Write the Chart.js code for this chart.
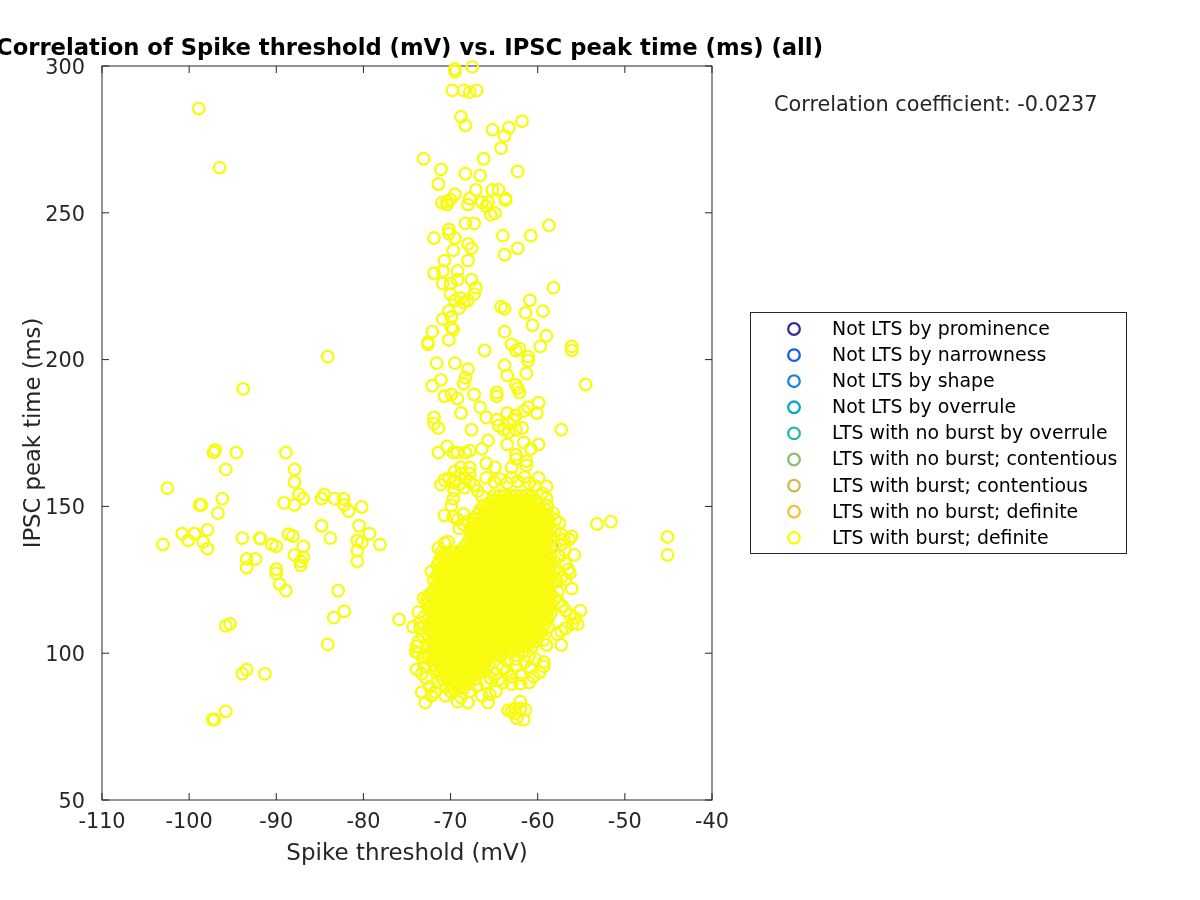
<!DOCTYPE html>
<html>
<head>
<meta charset="utf-8">
<title>Correlation</title>
<script src="https://cdn.jsdelivr.net/npm/chart.js@4"></script>
<style>
  body { margin: 0; background: #fff; }
  canvas { display: block; }
</style>
</head>
<body>
<canvas id="chart" width="1200" height="900"></canvas>
<script>
// ---- DATA ----
const titleText = 'Correlation of Spike threshold (mV) vs. IPSC peak time (ms) (all)';
const corrText = 'Correlation coefficient: -0.0237';
const xTicks = [-110, -100, -90, -80, -70, -60, -50, -40];
const yTicks = [50, 100, 150, 200, 250, 300];
const categories = [
  'Not LTS by prominence', 'Not LTS by narrowness', 'Not LTS by shape', 'Not LTS by overrule',
  'LTS with no burst by overrule', 'LTS with no burst; contentious', 'LTS with burst; contentious',
  'LTS with no burst; definite', 'LTS with burst; definite'
];
const colors = ['#3f2b96', '#0f5fe0', '#1a86de', '#07a8c8', '#2db7a3', '#86bf75', '#d0b855', '#fbbd33', '#f9fb0e'];

// [threshold, peak time]
const burstContentious = [[-58.4, 136.3]];

const leftGroup = [
  [-98.9,285.5],[-96.5,265.4],[-93.8,190],[-84.1,201],[-97,169.2],[-97.2,168.4],[-94.6,168.3],[-88.9,168.3],
  [-95.8,162.6],[-87.9,162.6],[-87.9,158.3],[-102.5,156.2],[-87.4,154.1],[-86.9,152.6],[-89.1,151.2],[-87.9,150.5],
  [-84.5,154.1],[-84.8,152.6],[-83.3,152.6],[-82.3,152.6],[-82.2,150.5],[-81.7,148.4],[-80.2,149.8],[-96.2,152.6],
  [-98.6,150.5],[-98.8,150.5],[-96.7,147.7],[-84.8,143.4],[-80.5,143.4],[-79.3,140.7],[-97.9,142],[-100.8,140.7],
  [-99.4,140.7],[-100.1,138.4],[-98.4,137.9],[-97.9,135.6],[-103,137],[-93.9,139.2],[-91.9,139.2],[-91.8,139],
  [-90.5,137],[-90,136.4],[-88.6,140.5],[-88.1,139.9],[-86.9,136.4],[-83.8,139.2],[-87.9,133.5],[-86.9,132.7],
  [-87.2,131.3],[-87.2,129.9],[-80.7,138.4],[-80.2,137.7],[-80.7,134.9],[-80.7,131.3],[-78.1,137],[-93.4,132.1],
  [-92.4,132.1],[-93.4,129.2],[-90,128.6],[-90,127.2],[-89.6,123.5],[-88.9,121.3],[-82.9,121.3],[-82.2,114.3],
  [-83.4,112.1],[-84.1,103],[-75.9,111.5],[-95.8,109.3],[-95.3,110],[-93.4,94.4],[-93.9,93],[-91.3,93],
  [-95.8,80.2],[-97.1,77.4],[-97.3,77.4]
];

const rightGroup = [[-45.1,139.6],[-45.1,133.5],[-51.6,144.8],[-53.2,144],[-54.5,191.5]];

const upperColumn = [
  [-69.5,299],[-69.5,298.1],[-67.5,299.7],[-69.8,291.7],[-68.5,291.7],[-67.8,291.1],[-67,291.7],[-68.8,282.7],
  [-68.3,279.8],[-65.2,278.3],[-63.3,279],[-61.8,281.2],[-63.8,276.2],[-64.2,272],[-73.1,268.4],[-66.2,268.4],
  [-71.1,264.8],[-68.3,263.3],[-66.6,262.7],[-62.3,264.1],[-71.4,259.8],[-67.1,257.8],[-65.2,257.8],[-64.5,257.8],
  [-69.5,256.3],[-71,253.4],[-70.4,253.9],[-70,254.5],[-70.4,252.8],[-68,252.8],[-67.8,254.8],[-66.4,253.6],
  [-65.7,253.6],[-65.9,252.2],[-63.7,254.9],[-63.7,254.3],[-65.4,249.3],[-64.9,249.9],[-68.3,246.4],[-67.3,246.4],
  [-58.7,245.7],[-70.2,244.3],[-70.2,242.9],[-71.9,241.4],[-69.5,241.4],[-64,242.2],[-60.8,242.2],[-68,239.4],
  [-67.6,237.9],[-69.7,237.2],[-62.3,237.9],[-63.8,235.7],[-70.7,233.7],[-68,233.7],[-69.2,230.2],[-70.9,230.2],
  [-71.9,229.4],[-69.2,227.2],[-67.6,227.2],[-70,225.9],[-70.9,225.9],[-67.1,224.5],[-58.2,224.5],[-67.3,222.3],
  [-70,222.3],[-69.5,220.2],[-68.8,220.9],[-68,220.2],[-68.5,219.5],[-69,217.6],[-60.9,220.2],[-64.2,218],
  [-63.8,217.3],[-61.4,215.9],[-59.4,216.5],[-70.2,216.5],[-69.9,214.5],[-70.9,213.8],[-60.6,211.7],[-72.1,209.5],
  [-69.9,211],[-69.7,210.2],[-63.8,209.5],[-70.2,206.7],[-72.6,205.9],[-72.6,205.2],[-59,208.1],[-63,205.2],
  [-59.7,204.5],[-56.1,204.5],[-56.1,203.1],[-62.1,203.7],[-62.5,203.1],[-66.1,203.1],[-61.1,201],[-61.1,199.6],
  [-63.8,198.1],[-71.6,198.8],[-69.5,198.8],[-68,196.7],[-68.3,193.8],[-61.3,195.3],[-63.5,194.6],[-71.1,193.1],
  [-68.5,191.8],[-72.1,191.1],[-62.5,191.4],[-62.3,190.3],[-62.1,188.8],[-70.7,187.5],[-69.9,188.1],[-69.2,186.7],
  [-67.3,188.1],[-64.7,188.8],[-64.7,187.5],[-66.6,183.8],[-68.8,181.8],[-59.9,185.3],[-61.1,183.8],[-61.6,182.5],
  [-60.1,181.8],[-63.5,181.8],[-65.9,180.3],[-62.5,181],[-71.9,180.3],[-71.9,178.2],[-71.4,176.7],[-64.7,179.5],
  [-64.5,177.5],[-63.9,176.1],[-63.3,178.2],[-62.8,179.5],[-62.5,176.1],[-61.8,176.7],[-63.3,175.3],[-67.6,176.1],
  [-57.3,176.1],[-65.7,172.5],[-63.5,171.1],[-61.6,171.8],[-59.9,171.1],[-60.8,169.6],[-70.4,170.4],[-66.4,169.6],
  [-71.4,168.3],[-69.7,168.3],[-69.2,168.3],[-68.3,168.3],[-67.8,169],[-62.5,167.6],[-61.3,165.4],[-61.3,164],
  [-62.5,166.1],[-65.9,164.7],[-64.9,163.3],[-63,163.3],[-67.8,163.3],[-68.8,163.3],[-69.5,161.9],[-67.8,161.1],
  [-68.8,161.1]
];

const clusterEdge = [
  [-70.7,159],[-71.1,157.4],[-70.2,159.6],[-69.7,158.2],[-69,157.5],[-68.3,159.5],[-67.8,158.4],[-67.3,157.2],
  [-68.4,156.4],[-69.6,155.4],[-69.7,152.6],[-69.9,150.3],[-70.7,146.9],[-69.7,146.5],[-69.2,145.5],[-68.5,147.4],
  [-68.5,143.8],[-68,145],[-67.7,142.5],[-69,142.5],[-65.9,159.7],[-66.9,155.3],[-66.4,153.5],[-65,158.4],
  [-64.3,159.3],[-63.5,158],[-63,159.8],[-62.3,158.5],[-61.5,160],[-61,158],[-60.3,157],[-59.9,159.7],
  [-59,156.8],[-59.5,154.5],[-59,152.8],[-58.9,150.2],[-58.2,147.7],[-58,145.5],[-57.5,144.3],[-58,142],
  [-57.3,140.5],[-57,138.7],[-56.1,139.8],[-56.4,138.8],[-57.3,137],[-56.9,135],[-55.8,133.5],[-57.5,133],
  [-56.8,130.5],[-56.5,128.5],[-56.3,127.3],[-57.2,126],[-57.8,124.5],[-56.8,125],[-56.1,122],[-57.7,121],
  [-58,118.5],[-57.6,117.5],[-57.2,116],[-55.1,114.5],[-56.8,114.5],[-56.3,113],[-55.7,112],[-55.4,109.9],
  [-56,110],[-56.8,108.5],[-57.3,107.5],[-57.8,106.5],[-59,102.8],[-57.3,102.8],[-59.3,104.5],[-59.3,97],
  [-59.3,95.5],[-59.8,93.5],[-60.5,92],[-61,90],[-62,89.6],[-63,89.5],[-64,90],[-64.5,91],
  [-63.5,94],[-62.5,95.5],[-61.5,97],[-60.8,95],[-62,92.5],[-63,92],[-64,95],[-64.8,93],
  [-60.3,98],[-61,99],[-62.5,98],[-63.5,97.5],[-64.2,99],[-71.4,135.8],[-70.7,137.5],[-70.3,138],
  [-71,134.5],[-72.2,127.8],[-71.5,130],[-71.3,131.5],[-73.1,118.7],[-72.7,118.7],[-72.4,120],[-72.6,117],
  [-73.7,114],[-73,112.5],[-73.5,110.5],[-74.3,109],[-73.5,108.5],[-73.2,106],[-73.7,104],[-73.9,102.3],
  [-73.7,100],[-74,100.5],[-73.2,98.5],[-73.9,94.5],[-73.3,93],[-73,95.5],[-72.8,91.5],[-73.3,86.7],
  [-72.9,83.2],[-72.2,85.5],[-72.4,88.5],[-71.5,90],[-70.6,85.5],[-70,87],[-69.2,83.5],[-68,83.2],
  [-68.8,85],[-67.8,87],[-66.4,85.5],[-65.7,83.2],[-65.5,86],[-64.8,87],[-67,89],[-66,90],
  [-65.4,91.5],[-67.5,92],[-70.5,88.5],[-71.8,86.8],
  [-62,83.5],[-63.4,80.5],[-62.6,79.5],[-61.6,77.3],[-62.4,77.8],[-63,80.1],[-61.4,80.7],[-62,81.2],[-62.6,81.2]
];

// solid part of the cluster, estimated row by row
const denseTimes = [
  153.6,152,150.4,148.8,147.2,145.6,144,142.4,140.8,139.2,137.6,136,134.4,132.8,131.2,129.6,128,126.4,124.8,123.2,
  121.6,120,118.4,116.8,115.2,113.6,112,110.4,108.8,107.2,105.6,104,102.4,100.8,99.2,97.6,96,94.4,92.8,91.2,89.6,88
];
const denseThresholds = [
  [-65,-64.4,-63.8,-63.1,-62.5,-61.9,-61.2,-60.6],
  [-65.3,-64.7,-64.1,-63.5,-62.8,-62.2,-61.6,-60.9,-60.3],
  [-66.2,-65.6,-65,-64.4,-63.8,-63.1,-62.5,-61.9,-61.2,-60.6,-60],
  [-66.6,-65.9,-65.3,-64.7,-64.1,-63.5,-62.8,-62.2,-61.6,-60.9,-60.3,-59.7,-59.1],
  [-66.9,-66.2,-65.6,-65,-64.4,-63.8,-63.1,-62.5,-61.9,-61.2,-60.6,-60,-59.4,-58.8],
  [-67.2,-66.6,-65.9,-65.3,-64.7,-64.1,-63.5,-62.8,-62.2,-61.6,-60.9,-60.3,-59.7,-59.1],
  [-67.5,-66.9,-66.2,-65.6,-65,-64.4,-63.8,-63.1,-62.5,-61.9,-61.2,-60.6,-60,-59.4,-58.8],
  [-67.2,-66.6,-65.9,-65.3,-64.7,-64.1,-63.5,-62.8,-62.2,-61.6,-60.9,-60.3,-59.7,-59.1,-58.5],
  [-67.5,-66.9,-66.2,-65.6,-65,-64.4,-63.8,-63.1,-62.5,-61.9,-61.2,-60.6,-60,-59.4,-58.8],
  [-67.8,-67.2,-66.6,-65.9,-65.3,-64.7,-64.1,-63.5,-62.8,-62.2,-61.6,-60.9,-60.3,-59.7,-59.1,-58.5],
  [-68.1,-67.5,-66.9,-66.2,-65.6,-65,-64.4,-63.8,-63.1,-62.5,-61.9,-61.2,-60.6,-60,-59.4,-58.8],
  [-68.5,-67.8,-67.2,-66.6,-65.9,-65.3,-64.7,-64.1,-63.5,-62.8,-62.2,-61.6,-60.9,-60.3,-59.7,-59.1],
  [-70.6,-70,-69.4,-68.8,-68.1,-67.5,-66.9,-66.2,-65.6,-65,-64.4,-63.8,-63.1,-62.5,-61.9,-61.2,-60.6,-60,-59.4,-58.8],
  [-70.9,-70.3,-69.7,-69.1,-68.5,-67.8,-67.2,-66.6,-65.9,-65.3,-64.7,-64.1,-63.5,-62.8,-62.2,-61.6,-60.9,-60.3,-59.7,-59.1,-58.5],
  [-71.2,-70.6,-70,-69.4,-68.8,-68.1,-67.5,-66.9,-66.2,-65.6,-65,-64.4,-63.8,-63.1,-62.5,-61.9,-61.2,-60.6,-60,-59.4,-58.8,-58.1],
  [-70.9,-70.3,-69.7,-69.1,-68.5,-67.8,-67.2,-66.6,-65.9,-65.3,-64.7,-64.1,-63.5,-62.8,-62.2,-61.6,-60.9,-60.3,-59.7,-59.1,-58.5],
  [-71.2,-70.6,-70,-69.4,-68.8,-68.1,-67.5,-66.9,-66.2,-65.6,-65,-64.4,-63.8,-63.1,-62.5,-61.9,-61.2,-60.6,-60,-59.4,-58.8,-58.1],
  [-71.6,-70.9,-70.3,-69.7,-69.1,-68.5,-67.8,-67.2,-66.6,-65.9,-65.3,-64.7,-64.1,-63.5,-62.8,-62.2,-61.6,-60.9,-60.3,-59.7,-59.1,-58.5],
  [-71.9,-71.2,-70.6,-70,-69.4,-68.8,-68.1,-67.5,-66.9,-66.2,-65.6,-65,-64.4,-63.8,-63.1,-62.5,-61.9,-61.2,-60.6,-60,-59.4,-58.8,-58.1],
  [-71.6,-70.9,-70.3,-69.7,-69.1,-68.5,-67.8,-67.2,-66.6,-65.9,-65.3,-64.7,-64.1,-63.5,-62.8,-62.2,-61.6,-60.9,-60.3,-59.7,-59.1,-58.5],
  [-71.9,-71.2,-70.6,-70,-69.4,-68.8,-68.1,-67.5,-66.9,-66.2,-65.6,-65,-64.4,-63.8,-63.1,-62.5,-61.9,-61.2,-60.6,-60,-59.4,-58.8],
  [-72.2,-71.6,-70.9,-70.3,-69.7,-69.1,-68.5,-67.8,-67.2,-66.6,-65.9,-65.3,-64.7,-64.1,-63.5,-62.8,-62.2,-61.6,-60.9,-60.3,-59.7,-59.1,-58.5],
  [-71.9,-71.2,-70.6,-70,-69.4,-68.8,-68.1,-67.5,-66.9,-66.2,-65.6,-65,-64.4,-63.8,-63.1,-62.5,-61.9,-61.2,-60.6,-60,-59.4,-58.8],
  [-72.2,-71.6,-70.9,-70.3,-69.7,-69.1,-68.5,-67.8,-67.2,-66.6,-65.9,-65.3,-64.7,-64.1,-63.5,-62.8,-62.2,-61.6,-60.9,-60.3,-59.7,-59.1,-58.5],
  [-72.5,-71.9,-71.2,-70.6,-70,-69.4,-68.8,-68.1,-67.5,-66.9,-66.2,-65.6,-65,-64.4,-63.8,-63.1,-62.5,-61.9,-61.2,-60.6,-60,-59.4,-58.8],
  [-72.2,-71.6,-70.9,-70.3,-69.7,-69.1,-68.5,-67.8,-67.2,-66.6,-65.9,-65.3,-64.7,-64.1,-63.5,-62.8,-62.2,-61.6,-60.9,-60.3,-59.7,-59.1,-58.5],
  [-72.5,-71.9,-71.2,-70.6,-70,-69.4,-68.8,-68.1,-67.5,-66.9,-66.2,-65.6,-65,-64.4,-63.8,-63.1,-62.5,-61.9,-61.2,-60.6,-60,-59.4,-58.8],
  [-72.2,-71.6,-70.9,-70.3,-69.7,-69.1,-68.5,-67.8,-67.2,-66.6,-65.9,-65.3,-64.7,-64.1,-63.5,-62.8,-62.2,-61.6,-60.9,-60.3,-59.7,-59.1],
  [-72.5,-71.9,-71.2,-70.6,-70,-69.4,-68.8,-68.1,-67.5,-66.9,-66.2,-65.6,-65,-64.4,-63.8,-63.1,-62.5,-61.9,-61.2,-60.6,-60,-59.4,-58.8],
  [-72.2,-71.6,-70.9,-70.3,-69.7,-69.1,-68.5,-67.8,-67.2,-66.6,-65.9,-65.3,-64.7,-64.1,-63.5,-62.8,-62.2,-61.6,-60.9,-60.3,-59.7],
  [-72.5,-71.9,-71.2,-70.6,-70,-69.4,-68.8,-68.1,-67.5,-66.9,-66.2,-65.6,-65,-64.4,-63.8,-63.1,-62.5,-61.9,-61.2,-60.6,-60],
  [-72.2,-71.6,-70.9,-70.3,-69.7,-69.1,-68.5,-67.8,-67.2,-66.6,-65.9,-65.3,-64.7,-64.1,-63.5,-62.8,-62.2,-61.6,-60.9,-60.3],
  [-72.5,-71.9,-71.2,-70.6,-70,-69.4,-68.8,-68.1,-67.5,-66.9,-66.2,-65.6,-65,-64.4,-63.8,-63.1,-62.5,-61.9,-61.2,-60.6],
  [-72.2,-71.6,-70.9,-70.3,-69.7,-69.1,-68.5,-67.8,-67.2,-66.6,-65.9,-65.3,-64.7,-64.1,-63.5,-62.8,-62.2,-61.6],
  [-72.5,-71.9,-71.2,-70.6,-70,-69.4,-68.8,-68.1,-67.5,-66.9,-66.2,-65.6,-65,-64.4],
  [-72.2,-71.6,-70.9,-70.3,-69.7,-69.1,-68.5,-67.8,-67.2,-66.6,-65.9],
  [-71.9,-71.2,-70.6,-70,-69.4,-68.8,-68.1,-67.5,-66.9,-66.2,-65.6],
  [-71.6,-70.9,-70.3,-69.7,-69.1,-68.5,-67.8,-67.2,-66.6,-65.9],
  [-71.2,-70.6,-70,-69.4,-68.8,-68.1,-67.5,-66.9],
  [-70.9,-70.3,-69.7,-69.1,-68.5,-67.8,-67.2],
  [-70,-69.4,-68.8,-68.1],
  [-69.7,-69.1,-68.5]
];

// ---- BUILD SERIES ----
const toPoint = p => ({ x: p[0], y: p[1] });
const burstDefinite = [...leftGroup, ...rightGroup, ...upperColumn, ...clusterEdge].map(toPoint);
denseTimes.forEach((y, i) => denseThresholds[i].forEach(x => burstDefinite.push({ x, y })));

const seriesData = categories.map(() => []);
seriesData[6] = burstContentious.map(toPoint);
seriesData[8] = burstDefinite;

const FONT = '"DejaVu Sans"';
const INK = '#262626';
const RING_RADIUS = 5.8;
const RING_WIDTH = 2.3;

// axes box with inward ticks, plus title, coefficient and legend
const boxPlugin = {
  id: 'box',
  beforeDatasetsDraw(chart) {
    const { ctx, chartArea: a, scales } = chart;
    ctx.save();
    ctx.strokeStyle = INK;
    ctx.lineWidth = 1;
    ctx.strokeRect(a.left, a.top, a.right - a.left, a.bottom - a.top);
    ctx.beginPath();
    xTicks.forEach(v => {
      const x = scales.x.getPixelForValue(v);
      ctx.moveTo(x, a.bottom); ctx.lineTo(x, a.bottom - 7);
      ctx.moveTo(x, a.top); ctx.lineTo(x, a.top + 7);
    });
    yTicks.forEach(v => {
      const y = scales.y.getPixelForValue(v);
      ctx.moveTo(a.left, y); ctx.lineTo(a.left + 7, y);
      ctx.moveTo(a.right, y); ctx.lineTo(a.right - 7, y);
    });
    ctx.stroke();
    ctx.restore();
  },
  afterDraw(chart) {
    const { ctx } = chart;
    ctx.save();
    ctx.fillStyle = '#000';
    ctx.textBaseline = 'middle';
    ctx.textAlign = 'center';
    ctx.font = `bold 22.7px ${FONT}`;
    ctx.fillText(titleText, 409.5, 49);

    ctx.textAlign = 'left';
    ctx.fillStyle = INK;
    ctx.font = `20.8px ${FONT}`;
    ctx.fillText(corrText, 774, 106);

    ctx.strokeStyle = INK;
    ctx.lineWidth = 1;
    ctx.strokeRect(750.5, 312.5, 376, 241);
    ctx.font = `18.9px ${FONT}`;
    chart.data.datasets.forEach((ds, i) => {
      const y = 329 + i * 26.1;
      ctx.beginPath();
      ctx.arc(794, y, RING_RADIUS, 0, Math.PI * 2);
      ctx.strokeStyle = ds.borderColor;
      ctx.lineWidth = RING_WIDTH;
      ctx.stroke();
      ctx.fillStyle = '#000';
      ctx.fillText(ds.label, 832, y + 1);
    });
    ctx.restore();
  }
};

new Chart(document.getElementById('chart'), {
  type: 'scatter',
  data: {
    datasets: categories.map((label, i) => ({
      label,
      data: seriesData[i],
      order: categories.length - i,
      borderColor: colors[i],
      backgroundColor: 'transparent',
      pointBorderWidth: RING_WIDTH,
      pointRadius: RING_RADIUS,
      clip: false
    }))
  },
  plugins: [boxPlugin],
  options: {
    responsive: false,
    animation: false,
    layout: { padding: { left: 0, right: 488, top: 66, bottom: 0 } },
    plugins: { legend: { display: false }, title: { display: false }, tooltip: { enabled: false } },
    scales: {
      x: {
        type: 'linear',
        min: -110,
        max: -40,
        afterBuildTicks: s => { s.ticks = xTicks.map(value => ({ value })); },
        afterFit: s => { s.height = 100; },
        grid: { display: false },
        border: { display: false },
        ticks: { color: INK, font: { family: FONT, size: 20.8 }, padding: 2, maxRotation: 0, callback: v => String(v) },
        title: { display: true, text: 'Spike threshold (mV)', color: INK, font: { family: FONT, size: 23 }, padding: { top: 0, bottom: 32 } }
      },
      y: {
        type: 'linear',
        min: 50,
        max: 300,
        afterBuildTicks: s => { s.ticks = yTicks.map(value => ({ value })); },
        afterFit: s => { s.width = 102; },
        grid: { display: false },
        border: { display: false },
        ticks: { color: INK, font: { family: FONT, size: 20.8 }, padding: 9, labelOffset: 2.5, callback: v => String(v) },
        title: { display: true, text: 'IPSC peak time (ms)', color: INK, font: { family: FONT, size: 22.7 }, padding: { top: 20, bottom: 0 } }
      }
    }
  }
});
</script>
</body>
</html>
